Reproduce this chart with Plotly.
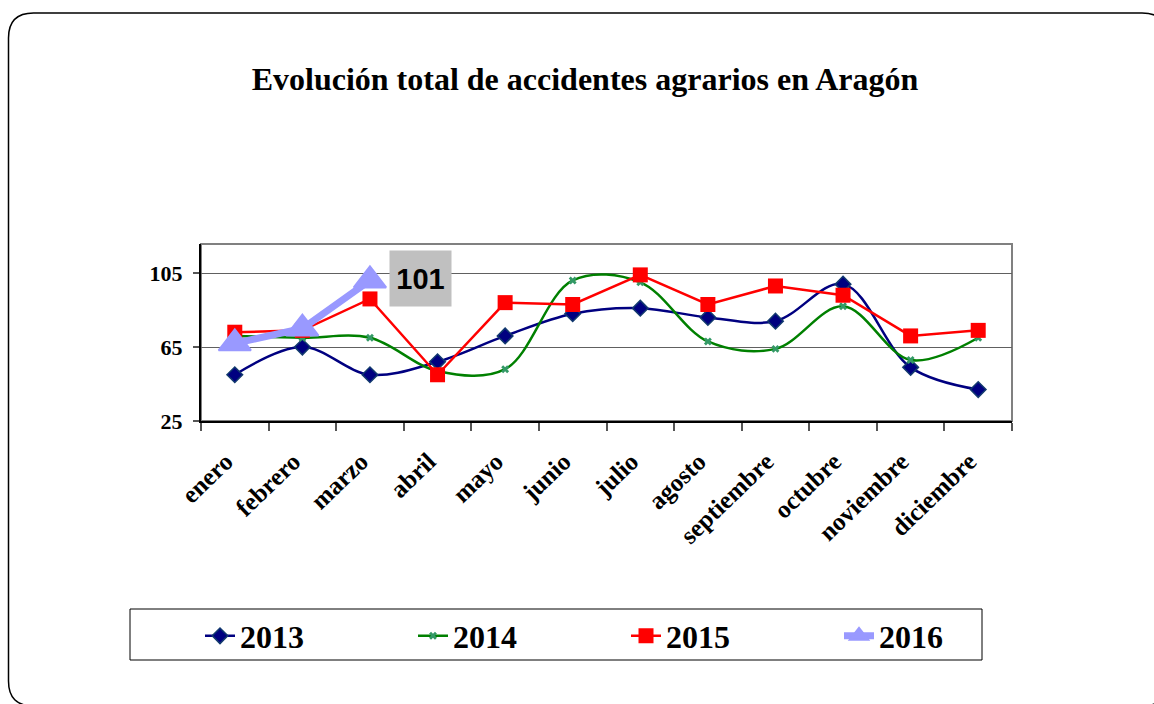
import plotly.graph_objects as go

# Monthly accident counts per year
meses = ["enero", "febrero", "marzo", "abril", "mayo", "junio", "julio",
         "agosto", "septiembre", "octubre", "noviembre", "diciembre"]
v2013 = [50, 65, 50, 57, 71, 83, 86, 81, 79, 99, 54, 42]
v2014 = [71, 70, 70, 52, 53, 101, 100, 68, 64, 87, 58, 70]
v2015 = [73, 74, 91, 50, 89, 88, 104, 88, 98, 93, 71, 74]
v2016 = [67, 75, 101]
y_ticks = [25, 65, 105]

W, H = 1154, 704
ML, MR, MT, MB = 201, 142, 244, 283
PW, PH = W - ML - MR, H - MT - MB


def paper(px, py):
    """Pixel position on the page -> paper coordinates."""
    return (px - ML) / PW, (H - MB - py) / PH


def rounded_rect(x0, y0, x1, y1, r):
    def p(x, y):
        a, b = paper(x, y)
        return f"{a:.5f},{b:.5f}"
    return (f"M{p(x0 + r, y0)} L{p(x1 - r, y0)} Q{p(x1, y0)} {p(x1, y0 + r)} "
            f"L{p(x1, y1 - r)} Q{p(x1, y1)} {p(x1 - r, y1)} "
            f"L{p(x0 + r, y1)} Q{p(x0, y1)} {p(x0, y1 - r)} "
            f"L{p(x0, y0 + r)} Q{p(x0, y0)} {p(x0 + r, y0)} Z")


serif = "Liberation Serif"

fig = go.Figure()
fig.add_trace(go.Scatter(
    x=meses, y=v2013, name="2013", mode="lines+markers",
    line=dict(color="#000080", width=2.5, shape="spline", smoothing=1),
    marker=dict(symbol="diamond", size=12, color="#000080",
                line=dict(color="#123a6e", width=1.5))))
fig.add_trace(go.Scatter(
    x=meses, y=v2014, name="2014", mode="lines+markers",
    line=dict(color="#008000", width=2.5, shape="spline", smoothing=1),
    marker=dict(symbol="x", size=7, color="#339966", line=dict(width=0))))
fig.add_trace(go.Scatter(
    x=meses, y=v2015, name="2015", mode="lines+markers",
    line=dict(color="#ff0000", width=2.5),
    marker=dict(symbol="square", size=15, color="#ff0000")))
fig.add_trace(go.Scatter(
    x=meses[:len(v2016)], y=v2016, name="2016", mode="lines+markers",
    line=dict(color="#9999ff", width=7),
    marker=dict(symbol="triangle-up", size=28, color="#9999ff",
                line=dict(color="#9999ff", width=2))))

# Value label for the latest month of 2016
fig.add_annotation(
    x=meses[len(v2016) - 1], y=v2016[-1], text=str(v2016[-1]),
    showarrow=False, xanchor="left", yanchor="middle", xshift=19, yshift=2,
    font=dict(family="Liberation Sans", size=29, color="#000000", weight="bold"),
    bgcolor="#c0c0c0", width=49, height=43, borderpad=6)

# Plot-area frame (grey), legend box and rounded outer frame
fig.add_shape(type="rect", xref="paper", yref="paper", x0=0, y0=0, x1=1, y1=1,
              line=dict(color="#808080", width=2), layer="below")
lx0, ly0 = paper(130, 609)
lx1, ly1 = paper(982, 660)
fig.add_shape(type="rect", xref="paper", yref="paper", x0=lx0, y0=ly1, x1=lx1, y1=ly0,
              line=dict(color="#000000", width=1))
fig.add_shape(type="path", xref="paper", yref="paper",
              path=rounded_rect(8.5, 13, 1167, 706, 25),
              line=dict(color="#000000", width=1.5))

leg_x, leg_y = paper(200, 636)

fig.update_layout(
    width=W, height=H,
    margin=dict(l=ML, r=MR, t=MT, b=MB),
    paper_bgcolor="white", plot_bgcolor="white",
    title=dict(text="Evolución total de accidentes agrarios en Aragón",
               x=585 / W, xref="container", xanchor="center",
               y=1 - 79 / H, yref="container", yanchor="middle",
               font=dict(family=serif, size=32, color="#000000", weight="bold")),
    legend=dict(orientation="h", x=leg_x, xanchor="left", y=leg_y, yanchor="middle",
                entrywidth=168, bgcolor="rgba(0,0,0,0)",
                font=dict(family=serif, size=32, color="#000000", weight="bold")),
    showlegend=True,
    xaxis=dict(
        type="category", categoryorder="array", categoryarray=meses,
        range=[-0.5, len(meses) - 0.5], tickson="boundaries",
        ticks="outside", ticklen=8, tickwidth=2, tickcolor="#555555",
        showline=True, linecolor="#000000", linewidth=2, showgrid=False,
        tickangle=-44, ticklabelstandoff=14, ticklabelshift=-9,
        tickfont=dict(family=serif, size=25, color="#000000", weight="bold")),
    yaxis=dict(
        range=[25, 120.7], tickvals=y_ticks, ticktext=[str(t) for t in y_ticks],
        ticks="outside", ticklen=6, tickwidth=2, tickcolor="#555555",
        showline=True, linecolor="#000000", linewidth=2,
        showgrid=True, gridcolor="#606060", gridwidth=1, zeroline=False,
        ticklabelstandoff=6,
        tickfont=dict(family=serif, size=22, color="#000000", weight="bold")),
)

fig.write_html("out.html")
